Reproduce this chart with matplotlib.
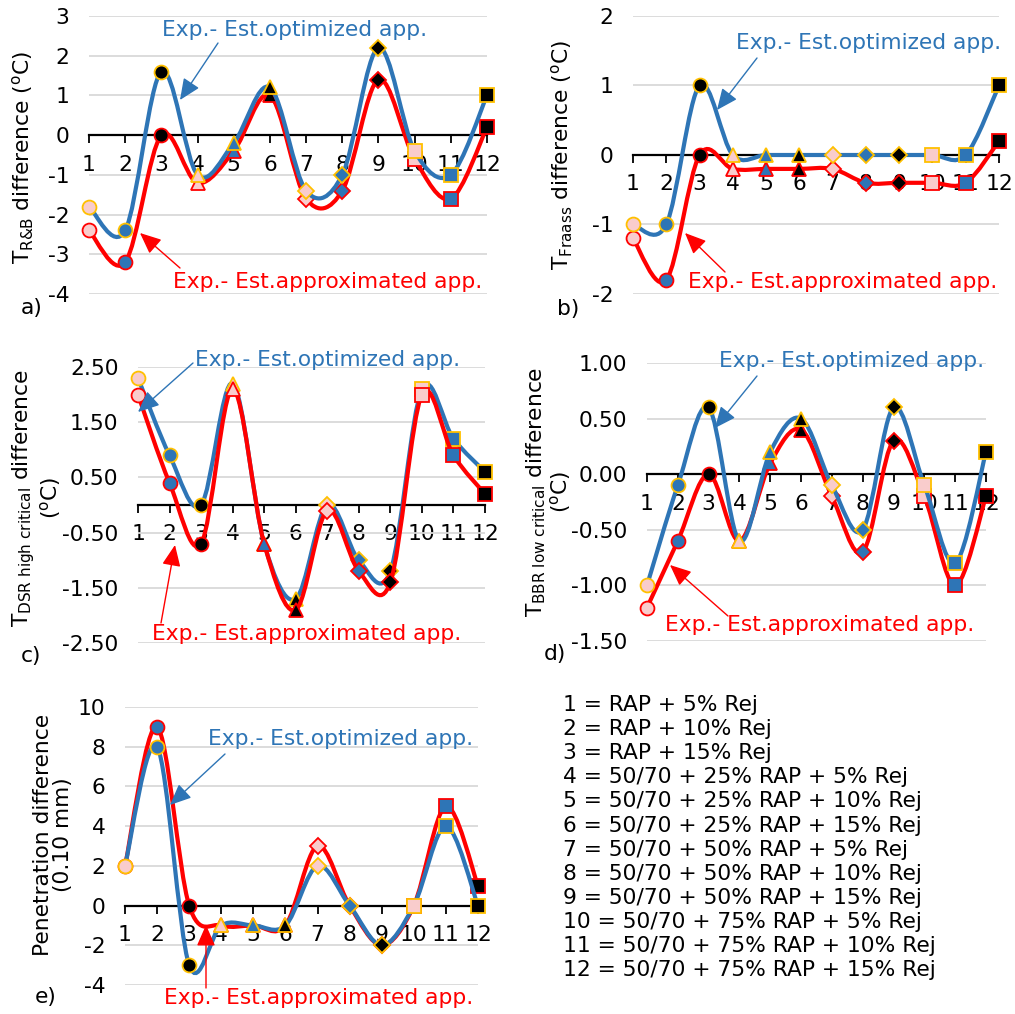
import numpy as np
import matplotlib.pyplot as plt
from matplotlib.path import Path
from matplotlib.patches import PathPatch
from matplotlib.ticker import FormatStrFormatter

W, H = 1015, 1014

mixes = list(range(1, 13))
mix_labels = ["1 = RAP + 5% Rej", "2 = RAP + 10% Rej", "3 = RAP + 15% Rej",
              "4 = 50/70 + 25% RAP + 5% Rej", "5 = 50/70 + 25% RAP + 10% Rej",
              "6 = 50/70 + 25% RAP + 15% Rej", "7 = 50/70 + 50% RAP + 5% Rej",
              "8 = 50/70 + 50% RAP + 10% Rej", "9 = 50/70 + 50% RAP + 15% Rej",
              "10 = 50/70 + 75% RAP + 5% Rej", "11 = 50/70 + 75% RAP + 10% Rej",
              "12 = 50/70 + 75% RAP + 15% Rej"]

# a) T R&B
rb_opt = [-1.8, -2.4, 1.6, -1.0, -0.2, 1.2, -1.4, -1.0, 2.2, -0.4, -1.0, 1.0]
rb_app = [-2.4, -3.2, 0.0, -1.2, -0.4, 1.0, -1.6, -1.4, 1.4, -0.6, -1.6, 0.2]
# b) T Fraass
fr_opt = [-1.0, -1.0, 1.0, 0, 0, 0, 0, 0, 0, 0, 0, 1.0]
fr_app = [-1.2, -1.8, 0.0, -0.2, -0.2, -0.2, -0.2, -0.4, -0.4, -0.4, -0.4, 0.2]
# c) T DSR high critical
dsr_opt = [2.3, 0.9, 0.0, 2.2, -0.7, -1.7, 0.0, -1.0, -1.2, 2.1, 1.2, 0.6]
dsr_app = [2.0, 0.4, -0.7, 2.1, -0.7, -1.9, -0.1, -1.2, -1.4, 2.0, 0.9, 0.2]
# d) T BBR low critical
bbr_opt = [-1.0, -0.1, 0.6, -0.6, 0.2, 0.5, -0.1, -0.5, 0.6, -0.1, -0.8, 0.2]
bbr_app = [-1.2, -0.6, 0.0, -0.6, 0.1, 0.4, -0.2, -0.7, 0.3, -0.2, -1.0, -0.2]
# e) penetration
pen_opt = [2, 8, -3, -1, -1, -1, 2, 0, -2, 0, 4, 0]
pen_app = [2, 9, 0, -1, -1, -1, 3, 0, -2, 0, 5, 1]

BLUE = '#2E75B6'
RED = '#FF0000'
PINK = '#F9CCCC'
GOLD = '#FFC000'
shapes = ['o', 'o', 'o', '^', '^', '^', 'D', 'D', 'D', 's', 's', 's']
faces = [PINK, BLUE, 'black'] * 4

FS = 15.7
plt.rcParams['font.family'] = 'DejaVu Sans'
plt.rcParams['mathtext.default'] = 'regular'
fig = plt.figure(figsize=(W / 100, H / 100), dpi=100)


def fx(x, y):
    return (x / W, 1 - y / H)


def smooth_path(x, y):
    pts = np.column_stack([x, y]).astype(float)
    n = len(pts)
    verts = [pts[0]]
    codes = [Path.MOVETO]
    for i in range(n - 1):
        p0 = pts[max(i - 1, 0)]
        p1, p2 = pts[i], pts[i + 1]
        p3 = pts[min(i + 2, n - 1)]
        verts += [p1 + (p2 - p0) / 6, p2 - (p3 - p1) / 6, p2]
        codes += [Path.CURVE4] * 3
    return Path(verts, codes)


def draw_series(ax, y, color, edge, z):
    ax.add_patch(PathPatch(smooth_path(mixes, y), fill=False, ec=color,
                           lw=3.0, zorder=z, clip_on=False, capstyle='round'))
    for xi, yi, m, f in zip(mixes, y, shapes, faces):
        ms = 8.5 if m == 'D' else 10
        ax.plot([xi], [yi], marker=m, ms=ms, mfc=f, mec=edge, mew=1.3,
                ls='none', zorder=z + 0.1, clip_on=False)


def make_panel(box, opt, app, ylim, yticks, fmt, red_on_top=False):
    l, t, r, b = box
    ax = fig.add_axes([l / W, 1 - b / H, (r - l) / W, (b - t) / H])
    if red_on_top:
        draw_series(ax, opt, BLUE, GOLD, 3)
        draw_series(ax, app, RED, RED, 4)
    else:
        draw_series(ax, app, RED, RED, 3)
        draw_series(ax, opt, BLUE, GOLD, 4)
    ax.set_xlim(1, 12)
    ax.set_ylim(*ylim)
    ax.set_xticks(mixes)
    ax.set_yticks(yticks)
    ax.yaxis.set_major_formatter(FormatStrFormatter(fmt))
    ax.grid(axis='y', color='#D9D9D9', lw=1.3)
    ax.set_axisbelow(True)
    for s in ['left', 'right', 'top']:
        ax.spines[s].set_visible(False)
    ax.spines['bottom'].set_position(('data', 0))
    ax.spines['bottom'].set_linewidth(1.6)
    ax.spines['bottom'].set_zorder(0.6)
    ax.tick_params(axis='x', direction='out', length=6, width=1.3,
                   labelsize=FS, pad=8)
    ax.tick_params(axis='y', length=0, labelsize=FS, pad=14)
    ax.set_facecolor('none')
    return ax


def label_arrows(ax, blue_txt, blue_arrow, red_txt, red_arrow):
    fig.text(*fx(*blue_txt), "Exp.- Est.optimized app.", color=BLUE,
             fontsize=FS, ha='center', va='center', zorder=10)
    fig.text(*fx(*red_txt), "Exp.- Est.approximated app.", color=RED,
             fontsize=FS, ha='center', va='center', zorder=10)
    for (tail, head), c in [(blue_arrow, BLUE), (red_arrow, RED)]:
        ax.annotate('', xy=fx(*head), xytext=fx(*tail),
                    xycoords='figure fraction', textcoords='figure fraction',
                    arrowprops=dict(arrowstyle='-|>,head_length=0.5,head_width=0.22',
                                    mutation_scale=26, lw=1.0, color=c,
                                    shrinkA=0, shrinkB=0), zorder=10)


deg = r'($^{o}$C)'

ax_a = make_panel((89, 16, 487, 294), rb_opt, rb_app, (-4, 3),
                  np.arange(-4, 3.5, 1), '%d')
fig.text(*fx(23, 157), r'T$_{R&B}$ difference ' + deg,
         rotation=90, fontsize=FS, ha='center', va='center')
fig.text(*fx(32, 308), 'a)', fontsize=FS, ha='center', va='center')
label_arrows(ax_a, (295, 30), ((218, 43), (180, 100)),
             (328, 282), ((180, 268), (140, 233)))

ax_b = make_panel((633, 16, 999, 294), fr_opt, fr_app, (-2, 2),
                  np.arange(-2, 2.5, 1), '%d')
fig.text(*fx(562, 155), r'T$_{Fraass}$ difference ' + deg,
         rotation=90, fontsize=FS, ha='center', va='center')
fig.text(*fx(568, 309), 'b)', fontsize=FS, ha='center', va='center')
label_arrows(ax_b, (869, 43), ((757, 58), (717, 110)),
             (843, 282), ((725, 272), (685, 233)))

ax_c = make_panel((138, 367, 485, 643), dsr_opt, dsr_app, (-2.5, 2.5),
                  np.arange(-2.5, 3.0, 1), '%.2f', red_on_top=True)
fig.text(*fx(37, 498), r'T$_{DSR\ high\ critical}$ difference' + '\n' + deg,
         rotation=90, fontsize=FS, ha='center', va='center',
         multialignment='center', linespacing=1.05)
fig.text(*fx(31, 656), 'c)', fontsize=FS, ha='center', va='center')
label_arrows(ax_c, (328, 360), ((193, 363), (138, 412)),
             (307, 634), ((161, 623), (175, 545)))

ax_d = make_panel((647, 363, 986, 641), bbr_opt, bbr_app, (-1.5, 1.0),
                  np.arange(-1.5, 1.25, 0.5), '%.2f')
fig.text(*fx(549, 492), r'T$_{BBR\ low\ critical}$ difference' + '\n' + deg,
         rotation=90, fontsize=FS, ha='center', va='center',
         multialignment='center', linespacing=1.0)
fig.text(*fx(555, 654), 'd)', fontsize=FS, ha='center', va='center')
label_arrows(ax_d, (852, 361), ((757, 376), (715, 428)),
             (820, 625), ((728, 616), (670, 565)))

ax_e = make_panel((125, 707, 478, 985), pen_opt, pen_app, (-4, 10),
                  np.arange(-4, 11, 2), '%d')
fig.text(*fx(53, 835), 'Penetration difference\n(0.10 mm)',
         rotation=90, fontsize=FS, ha='center', va='center',
         multialignment='center', linespacing=1.05)
fig.text(*fx(46, 997), 'e)', fontsize=FS, ha='center', va='center')
label_arrows(ax_e, (341, 739), ((225, 754), (170, 805)),
             (319, 998), ((206, 988), (206, 925)))

for i, s in enumerate(mix_labels):
    fig.text(*fx(563, 705 + i * 24.1), s, fontsize=FS, ha='left', va='center')

fig.savefig('out.png', dpi=100)
